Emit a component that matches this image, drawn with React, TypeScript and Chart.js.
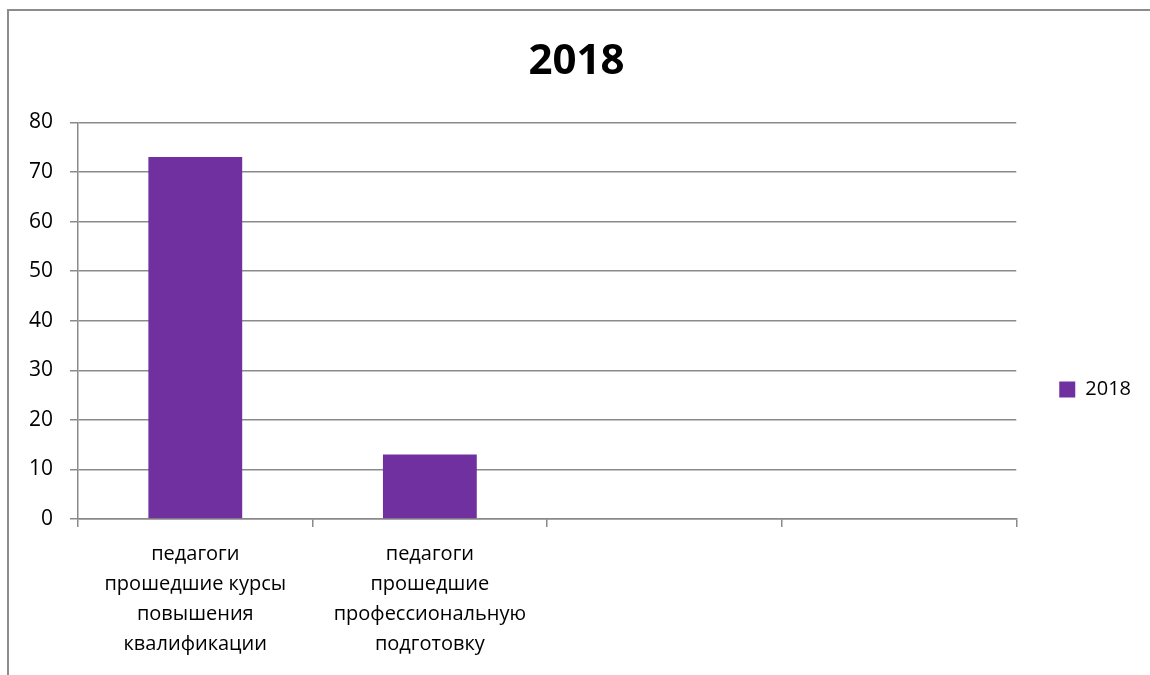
import React, { useEffect, useRef } from "react";
import { Chart, registerables } from "chart.js";

Chart.register(...registerables);

const categories: (string | string[])[] = [
  ["педагоги", "прошедшие курсы", "повышения", "квалификации"],
  ["педагоги", "прошедшие", "профессиональную", "подготовку"],
  "",
  "",
];
const seriesName = "2018";
const seriesValues: (number | null)[] = [73, 13, null, null];
const titleText = "2018";
const yMin = 0;
const yMax = 80;
const yStep = 10;

const FONT = "'Open Sans', 'DejaVu Sans', sans-serif";
const GRID = "#8a8a8a";
const BAR = "#7030A0";

export default function App() {
  const ref = useRef<HTMLCanvasElement | null>(null);

  useEffect(() => {
    if (!ref.current) return;
    const chart = new Chart(ref.current, {
      type: "bar",
      data: {
        labels: categories,
        datasets: [
          {
            label: seriesName,
            data: seriesValues,
            backgroundColor: BAR,
            borderWidth: 0,
            categoryPercentage: 0.4,
            barPercentage: 1,
          },
        ],
      },
      options: {
        animation: false,
        responsive: false,
        maintainAspectRatio: false,
        devicePixelRatio: 1,
        layout: { padding: { left: 12, right: 9, top: 0, bottom: 4 } },
        plugins: {
          title: {
            display: true,
            text: titleText,
            color: "#000",
            font: { family: FONT, size: 42, weight: "bold" },
            padding: { top: 37, bottom: 35 },
          },
          legend: {
            display: true,
            position: "right",
            title: {
              display: true,
              text: "",
              font: { family: FONT, size: 10 },
              padding: { top: 0, bottom: 96 },
            },
            labels: {
              color: "#000",
              font: { family: FONT, size: 20 },
              boxWidth: 16,
              boxHeight: 16,
              padding: 43,
            },
          },
          tooltip: { enabled: false },
        },
        scales: {
          x: {
            grid: {
              display: true,
              drawOnChartArea: false,
              drawTicks: true,
              tickLength: 8,
              color: GRID,
              lineWidth: 1.5,
              offset: true,
            },
            border: { display: true, color: GRID, width: 1.5 },
            ticks: {
              color: "#000",
              font: { family: FONT, size: 20, lineHeight: 1.5 },
              padding: 12,
              maxRotation: 0,
              autoSkip: false,
            },
          },
          y: {
            min: yMin,
            max: yMax,
            grid: {
              color: GRID,
              lineWidth: 1.5,
              tickLength: 8,
            },
            border: { display: true, color: GRID, width: 1.5 },
            ticks: {
              stepSize: yStep,
              color: "#000",
              font: { family: FONT, size: 21 },
              padding: 17,
            },
          },
        },
      },
    });
    return () => chart.destroy();
  }, []);

  return (
    <div
      style={{
        position: "fixed",
        left: 0,
        top: 0,
        width: 1150,
        height: 675,
        overflow: "hidden",
        background: "#fff",
      }}
    >
      <div
        style={{
          position: "absolute",
          left: 7,
          top: 9,
          width: 1200,
          height: 800,
          borderTop: "2px solid #8c8c8c",
          borderLeft: "2px solid #8c8c8c",
        }}
      />
      <canvas
        ref={ref}
        width={1150}
        height={675}
        style={{ position: "absolute", left: 0, top: 0, width: 1150, height: 675 }}
      />
    </div>
  );
}
